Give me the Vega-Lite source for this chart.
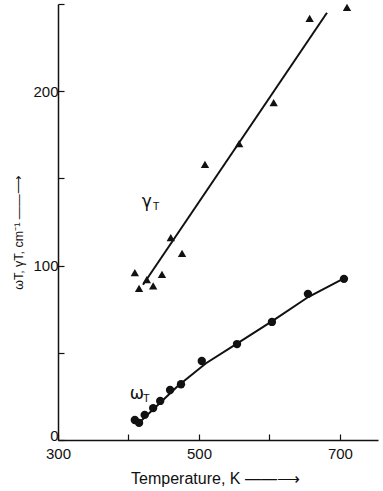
{
  "$schema": "https://vega.github.io/schema/vega-lite/v6.json",
  "width": 320,
  "height": 436,
  "autosize": {"type": "none"},
  "padding": {"left": 58, "top": 4, "right": 5, "bottom": 51},
  "background": "white",
  "config": {
    "view": {"stroke": null},
    "font": "Liberation Sans",
    "axis": {
      "grid": false,
      "domainColor": "#111",
      "domainWidth": 1.5,
      "tickColor": "#111",
      "tickWidth": 1.2,
      "tickSize": -6,
      "labelFont": "Liberation Sans",
      "labelFontSize": 15,
      "labelColor": "#111",
      "labelFlush": false,
      "titleFont": "Liberation Sans",
      "titleFontSize": 15,
      "titleFontWeight": "normal",
      "titleColor": "#111"
    }
  },
  "datasets": {
    "pts": [
      {"T": 409, "v": 96, "s": "gamma"},
      {"T": 415, "v": 87, "s": "gamma"},
      {"T": 426, "v": 92, "s": "gamma"},
      {"T": 435, "v": 88.4, "s": "gamma"},
      {"T": 447.5, "v": 95, "s": "gamma"},
      {"T": 460, "v": 116, "s": "gamma"},
      {"T": 476, "v": 107, "s": "gamma"},
      {"T": 508.5, "v": 158, "s": "gamma"},
      {"T": 557, "v": 170, "s": "gamma"},
      {"T": 606, "v": 193.5, "s": "gamma"},
      {"T": 657, "v": 241.7, "s": "gamma"},
      {"T": 710, "v": 248, "s": "gamma"},
      {"T": 409, "v": 11.5, "s": "omega"},
      {"T": 415, "v": 9.8, "s": "omega"},
      {"T": 423, "v": 14.4, "s": "omega"},
      {"T": 435, "v": 18.3, "s": "omega"},
      {"T": 445, "v": 22.4, "s": "omega"},
      {"T": 459, "v": 28.7, "s": "omega"},
      {"T": 474.5, "v": 32, "s": "omega"},
      {"T": 504, "v": 45.3, "s": "omega"},
      {"T": 554, "v": 55, "s": "omega"},
      {"T": 603.5, "v": 67.7, "s": "omega"},
      {"T": 654.6, "v": 83.8, "s": "omega"},
      {"T": 705.7, "v": 92.4, "s": "omega"}
    ],
    "fits": [
      {"T": 420.6, "v": 89, "s": "gamma"},
      {"T": 681.6, "v": 245, "s": "gamma"},
      {"T": 418, "v": 11, "s": "omega"},
      {"T": 470, "v": 31, "s": "omega"},
      {"T": 510, "v": 44, "s": "omega"},
      {"T": 555, "v": 55.5, "s": "omega"},
      {"T": 605, "v": 68.5, "s": "omega"},
      {"T": 655, "v": 82, "s": "omega"},
      {"T": 705, "v": 92.5, "s": "omega"}
    ],
    "labels": [
      {"T": 426, "v": 136.6, "sym": "γ", "sub": "T"},
      {"T": 412, "v": 26.5, "sym": "ω", "sub": "T"}
    ]
  },
  "encoding": {
    "x": {
      "field": "T", "type": "quantitative",
      "scale": {"domain": [300, 754], "nice": false, "zero": false},
      "axis": {
        "values": [300, 400, 500, 600, 700],
        "labelExpr": "datum.value % 200 == 100 ? datum.label : ''",
        "labelPadding": 12,
        "title": "Temperature, K ——⟶",
        "titleFontSize": 16,
        "titleBaseline": "middle",
        "titleY": 38,
        "titleX": 157
      }
    },
    "y": {
      "field": "v", "type": "quantitative",
      "scale": {"domain": [0, 250], "nice": false},
      "axis": {
        "values": [0, 50, 100, 150, 200, 250],
        "labelExpr": "datum.value % 100 == 0 ? datum.label : ''",
        "labelOffset": {"condition": {"test": "datum.value == 0", "value": -5}, "value": 0},
        "labelPadding": 6,
        "title": "ωT, γT, cm⁻¹ ——⟶",
        "titleFontSize": 12.5,
        "titleBaseline": "middle",
        "titleX": -40,
        "titleY": 228
      }
    }
  },
  "layer": [
    {
      "data": {"name": "fits"},
      "mark": {"type": "line", "color": "#111", "strokeWidth": 2},
      "encoding": {"detail": {"field": "s"}}
    },
    {
      "data": {"name": "pts"},
      "mark": {"type": "point", "filled": true, "color": "#111", "opacity": 1, "size": 70},
      "encoding": {
        "shape": {
          "field": "s", "type": "nominal",
          "scale": {"domain": ["gamma", "omega"], "range": ["triangle-up", "circle"]},
          "legend": null
        }
      }
    },
    {
      "data": {"name": "labels"},
      "mark": {"type": "text", "fontSize": 17, "color": "#111", "font": "DejaVu Sans", "align": "center", "baseline": "middle"},
      "encoding": {"text": {"field": "sym"}}
    },
    {
      "data": {"name": "labels"},
      "mark": {"type": "text", "fontSize": 11, "color": "#111", "font": "Liberation Sans", "align": "left", "baseline": "middle", "dx": 6, "dy": 5},
      "encoding": {"text": {"field": "sub"}}
    }
  ]
}
